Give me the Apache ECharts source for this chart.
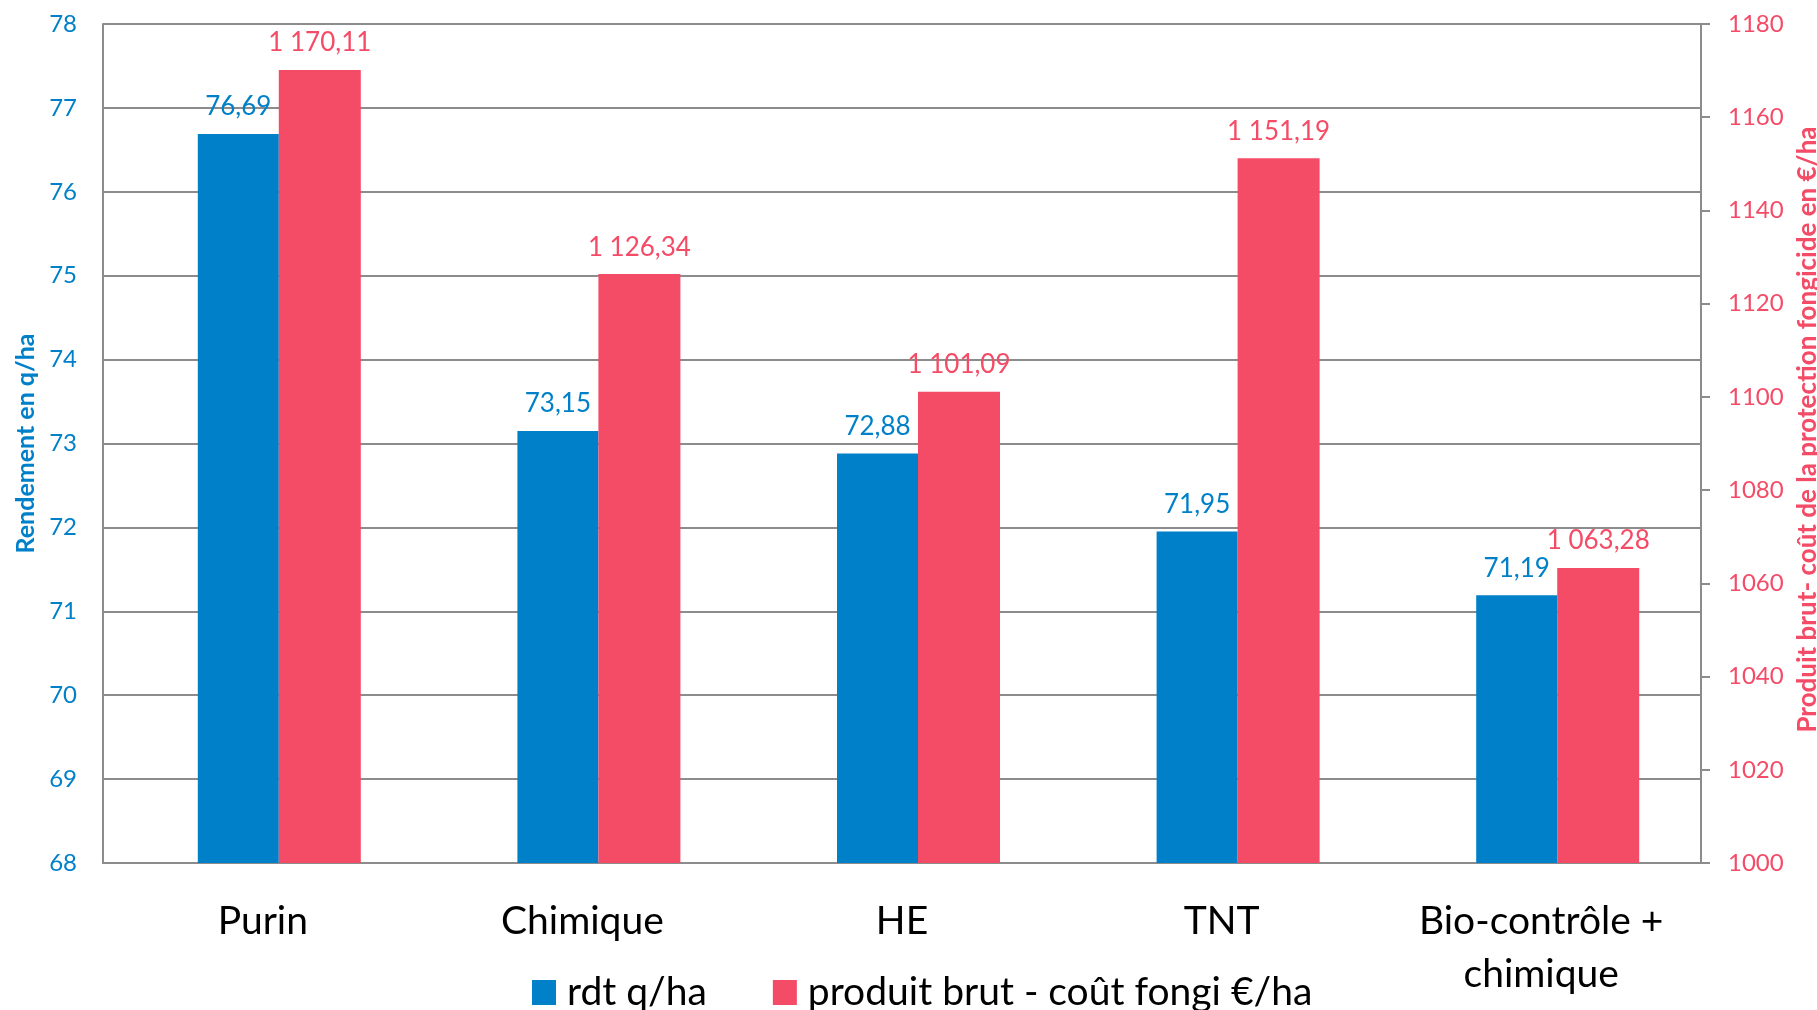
<!DOCTYPE html>
<html>
<head>
<meta charset="utf-8">
<script src="https://cdn.jsdelivr.net/npm/echarts@6/dist/echarts.min.js"></script>
<style>
html,body{margin:0;padding:0;background:#fff;}
#chart{width:1817px;height:1010px;}
</style>
</head>
<body>
<div id="chart"></div>
<script>
var categories = ['Purin', 'Chimique', 'HE', 'TNT', 'Bio-contrôle +\nchimique'];
var rdt = [76.69, 73.15, 72.88, 71.95, 71.19];
var produit = [1170.11, 1126.34, 1101.09, 1151.19, 1063.28];
var leftTicks = {min: 68, max: 78, interval: 1};
var rightTicks = {min: 1000, max: 1180, interval: 20};

var BLUE = '#0080C8';
var PINK = '#F44B66';
var GRID = '#8C8C8C';
var FONT = 'Lato';

function frNum(v) {
  var s = v.toFixed(2).split('.');
  var int = s[0].replace(/\B(?=(\d{3})+(?!\d))/g, ' ');
  return int + ',' + s[1];
}

var chart = echarts.init(document.getElementById('chart'));
chart.setOption({
  backgroundColor: '#fff',
  animation: false,
  textStyle: {fontFamily: FONT},
  grid: {left: 103, right: 116, top: 24, bottom: 147, containLabel: false, outerBoundsMode: 'none'},
  legend: {
    data: ['rdt q/ha', 'produit brut - coût fongi €/ha'],
    left: 527, top: 968,
    icon: 'rect', itemWidth: 24, itemHeight: 25, itemGap: 66,
    textStyle: {fontSize: 39, color: '#000', fontFamily: FONT, padding: [0, 0, 0, 6]}
  },
  xAxis: {
    type: 'category',
    data: categories,
    axisLine: {show: true, lineStyle: {color: GRID, width: 2}},
    axisTick: {show: false},
    axisLabel: {fontSize: 39, color: '#000', fontFamily: FONT, lineHeight: 53, margin: 32, interval: 0}
  },
  yAxis: [{
    type: 'value',
    min: leftTicks.min, max: leftTicks.max, interval: leftTicks.interval,
    position: 'left',
    name: 'Rendement en q/ha', nameLocation: 'middle', nameRotate: 90, nameGap: 64,
    nameTextStyle: {color: BLUE, fontSize: 25, fontWeight: 'bold', fontFamily: FONT},
    axisLine: {show: true, lineStyle: {color: GRID, width: 2}},
    axisTick: {show: false},
    axisLabel: {color: BLUE, fontSize: 24, margin: 26, fontFamily: FONT},
    splitLine: {show: true, lineStyle: {color: GRID, width: 2}}
  }, {
    type: 'value',
    min: rightTicks.min, max: rightTicks.max, interval: rightTicks.interval,
    position: 'right',
    name: 'Produit brut- coût de la protection fongicide en €/ha', nameLocation: 'middle', nameRotate: 90, nameGap: 89,
    nameTextStyle: {color: PINK, fontSize: 26, fontWeight: 'bold', fontFamily: FONT, padding: [0, 0, 0, 28]},
    axisLine: {show: true, lineStyle: {color: GRID, width: 2}},
    axisTick: {show: true, length: 9, lineStyle: {color: GRID, width: 2}},
    axisLabel: {color: PINK, fontSize: 24, margin: 27, fontFamily: FONT,
      formatter: function (v) { return String(v); }},
    splitLine: {show: false}
  }],
  series: [{
    name: 'gap',
    type: 'bar',
    yAxisIndex: 0,
    barWidth: 33,
    barGap: 0,
    silent: true,
    data: categories.map(function () { return null; })
  }, {
    name: 'rdt q/ha',
    type: 'bar',
    yAxisIndex: 0,
    barWidth: 81,
    barGap: 0,
    itemStyle: {color: BLUE},
    label: {show: true, position: 'top', distance: 14, color: BLUE, fontSize: 26, fontFamily: FONT,
      formatter: function (p) { return frNum(p.value); }},
    data: rdt
  }, {
    name: 'produit brut - coût fongi €/ha',
    type: 'bar',
    yAxisIndex: 1,
    barWidth: 82,
    barGap: 0,
    itemStyle: {color: PINK},
    label: {show: true, position: 'top', distance: 14, color: PINK, fontSize: 26, fontFamily: FONT,
      formatter: function (p) { return frNum(p.value); }},
    data: produit
  }]
});
</script>
</body>
</html>
